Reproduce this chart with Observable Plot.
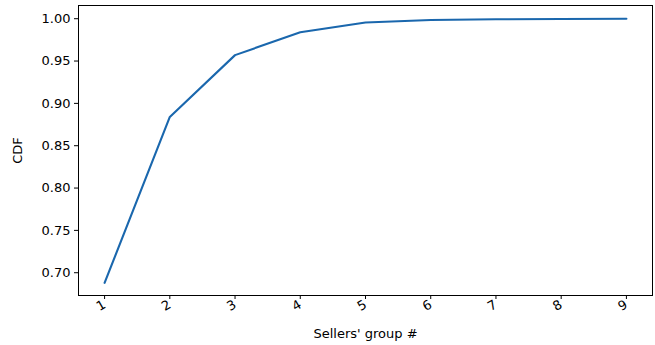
<!DOCTYPE html>
<html>
<head>
<meta charset="utf-8">
<script src="https://cdn.jsdelivr.net/npm/d3@7"></script>
<script src="https://cdn.jsdelivr.net/npm/@observablehq/plot@0.6"></script>
<style>
  html, body { margin: 0; padding: 0; background: #fff; }
  svg { display: block; }
</style>
</head>
<body>
<div id="chart"></div>
<script>
const groups = [1, 2, 3, 4, 5, 6, 7, 8, 9];
const cdf = [0.688, 0.884, 0.957, 0.984, 0.9955, 0.9985, 0.9993, 0.9997, 1.0];
const yTicks = [0.70, 0.75, 0.80, 0.85, 0.90, 0.95, 1.00];

const data = groups.map((g, i) => ({group: g, cdf: cdf[i]}));

const chart = Plot.plot({
  width: 655,
  height: 345,
  marginLeft: 78,
  marginRight: 3,
  marginTop: 5,
  marginBottom: 50,
  style: {fontFamily: "DejaVu Sans", fontSize: "13px", color: "#000", background: "#fff"},
  x: {domain: [0.6, 9.4]},
  y: {domain: [0.6731, 1.0156]},
  marks: [
    Plot.axisX({
      ticks: groups, tickSize: 4, tickPadding: 4, tickRotate: -30,
      fontSize: 13, label: "Sellers' group #", labelAnchor: "center", labelOffset: 42, labelArrow: "none",
      stroke: "#000", tickFormat: d => String(d)
    }),
    Plot.axisY({
      ticks: yTicks, tickSize: 4, tickPadding: 4, tickFormat: d3.format(".2f"),
      fontSize: 13, label: "CDF", labelAnchor: "center", labelOffset: 66, labelArrow: "none",
      stroke: "#000"
    }),
    Plot.line(data, {x: "group", y: "cdf", stroke: "#1a67ad", strokeWidth: 2.1}),
    Plot.frame({stroke: "#000", strokeWidth: 1})
  ]
});
document.getElementById("chart").appendChild(chart);
</script>
</body>
</html>
